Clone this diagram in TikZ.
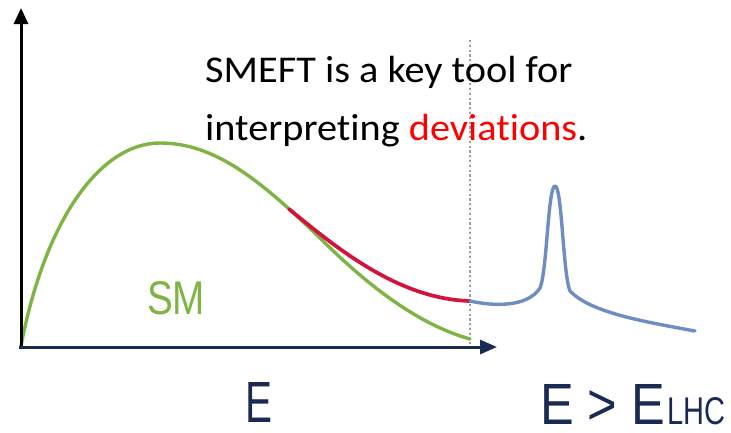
\documentclass[tikz,border=0pt]{standalone}
\usepackage{fontspec}
\setmainfont{Carlito}[Ligatures=NoCommon]
\newfontfamily\plotfont{Liberation Sans}
\usetikzlibrary{arrows.meta}
\definecolor{navy}{HTML}{1B2A52}
\definecolor{smgreen}{HTML}{7DB443}
\definecolor{bsmred}{HTML}{D4123C}
\definecolor{peakblue}{HTML}{6E8DC2}
\definecolor{guide}{HTML}{9C9C9C}
\newcommand{\widetext}[1]{\scalebox{1.066}[1]{#1}}
\tikzset{
  curve/.style={line width=3.4pt, line cap=round, line join=round},
  axisline/.style={line width=3pt},
  headtext/.style={font=\fontsize{37.8pt}{37.8pt}\selectfont, anchor=base west, inner sep=0pt},
  plotlabel/.style={inner sep=0pt, anchor=south west}
}
\begin{document}
\begin{tikzpicture}[x=1pt,y=-1pt]
\useasboundingbox (0,0) rectangle (731,432);
% axes
\coordinate (origin) at (21,347);
\coordinate (ytop) at (21,8);
\coordinate (xend) at (497,347);
\coordinate (cut) at (470,40);
\coordinate (cutbottom) at (470,344);
% threshold between accessible and higher energies
\draw[guide, line width=2.4pt, dash pattern=on 2.2pt off 2.6pt] (cut) -- (cutbottom);
% title text
\node[headtext] (line1) at (205,82) {\widetext{SMEFT is a key tool for}};
\node[headtext] (line2) at (205,140) {\widetext{interpreting \textcolor{red}{deviations}.}};
% SM spectrum
\draw[curve, smgreen] (21,346) .. controls (45,220) and (100,143) .. (160,143)
  .. controls (215,143) and (260,180) .. (320,238)
  .. controls (370,288) and (420,325) .. (470,339);
% deviation from SM
\draw[curve, bsmred, line width=3.7pt] (289,209) .. controls (340,251) and (400,299) .. (470,301);
% resonance above the LHC reach
\draw[curve, peakblue] (470,301) .. controls (492,306) and (527,308) .. (540,288)
  .. controls (547,272) and (548,186) .. (555,186)
  .. controls (562,186) and (563,275) .. (570,291)
  .. controls (590,312) and (640,321) .. (695,331);
% axes drawn on top
\draw[axisline, black, -{Triangle[length=16pt,width=14pt]}] (origin) -- (ytop);
\draw[axisline, navy, -{Triangle[length=17pt,width=14pt]}] ([xshift=-2pt]origin) -- (xend);
% labels
\node[plotlabel, text=smgreen] (sm) at (147,315) {\resizebox{58pt}{33pt}{\plotfont SM}};
\node[plotlabel, text=navy] (elow) at (245,423) {\resizebox{27pt}{40pt}{\plotfont E}};
\node[plotlabel, text=navy] (ehigh) at (540,425) {\resizebox{125pt}{40pt}{\plotfont E > E}};
\node[plotlabel, text=navy] (lhc) at (667,425) {\resizebox{58pt}{27pt}{\plotfont LHC}};
\end{tikzpicture}
\end{document}
